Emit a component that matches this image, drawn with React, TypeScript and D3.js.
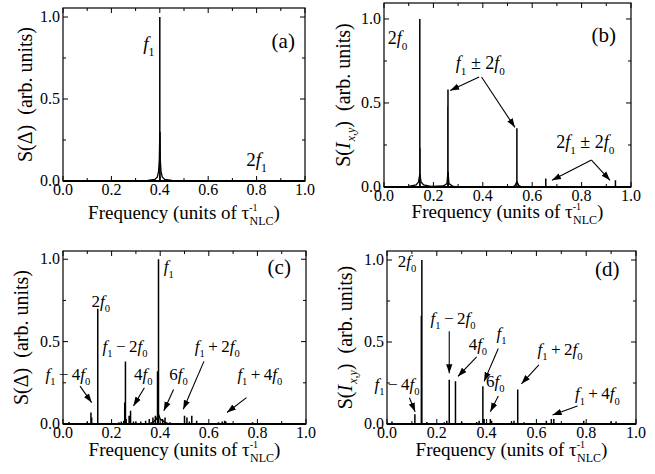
import React from "react";
import * as d3 from "d3";

const SERIF = "'Liberation Serif', 'DejaVu Serif', 'Times New Roman', serif";

type Pt = [number, number];
type Arrow = [number, number, number, number];
type Ann = { t: string; x: number; y: number; arrows?: Arrow[]; anchor?: string };

// axis ticks
const xMajor = [0, 0.2, 0.4, 0.6, 0.8, 1.0];
const xMinor = [0.1, 0.3, 0.5, 0.7, 0.9];
const yMajor = [0, 0.5, 1.0];
const yMinor = [0.25, 0.75];

// (a) S(Delta), single line at f1
const sticksA: Pt[] = [[0.4, 1.0], [0.401, 0.3]];
const wingsA: Pt[][] = [[
  [0.28, 0], [0.35, 0.004], [0.38, 0.01], [0.39, 0.025], [0.395, 0.06], [0.398, 0.13],
  [0.4, 0.3], [0.402, 0.13], [0.405, 0.06], [0.41, 0.025], [0.42, 0.01], [0.45, 0.004], [0.5, 0.002], [0.52, 0],
]];

// (b) S(I_xy)
const sticksB: Pt[] = [
  [0.145, 1.0], [0.146, 0.23], [0.2585, 0.48], [0.259, 0.58], [0.26, 0.09],
  [0.538, 0.35], [0.655, 0.05], [0.937, 0.04],
];
const wingsB: Pt[][] = [
  [[0.07, 0], [0.1, 0.004], [0.13, 0.012], [0.14, 0.03], [0.145, 0.08], [0.15, 0.03], [0.16, 0.012],
   [0.19, 0.004], [0.24, 0.006], [0.255, 0.02], [0.259, 0.09], [0.263, 0.02], [0.28, 0.003], [0.3, 0]],
  [[0.52, 0], [0.53, 0.008], [0.538, 0.03], [0.546, 0.008], [0.56, 0]],
];

// (c) S(Delta), quasiperiodic
const sticksC: Pt[] = [
  [0.025, 0.012], [0.06, 0.004], [0.1, 0.01], [0.115, 0.07], [0.118, 0.04], [0.143, 0.7],
  [0.17, 0.005], [0.23, 0.01], [0.24, 0.015], [0.25, 0.02], [0.254, 0.13], [0.257, 0.38],
  [0.26, 0.03], [0.272, 0.05], [0.278, 0.08], [0.29, 0.015], [0.3, 0.01], [0.32, 0.015],
  [0.34, 0.02], [0.355, 0.03], [0.37, 0.04], [0.38, 0.05], [0.389, 0.32], [0.393, 1.0],
  [0.41, 0.03], [0.42, 0.04], [0.44, 0.01], [0.5, 0.05], [0.51, 0.04], [0.52, 0.015],
  [0.53, 0.05], [0.55, 0.02], [0.64, 0.01], [0.655, 0.015], [0.665, 0.02], [0.67, 0.015], [0.78, 0.01],
];
const wingsC: Pt[][] = [[
  [0.35, 0], [0.37, 0.01], [0.385, 0.03], [0.393, 0.06], [0.4, 0.03], [0.42, 0.01], [0.44, 0],
]];

// (d) S(I_xy), quasiperiodic
const sticksD: Pt[] = [
  [0.02, 0.015], [0.112, 0.06], [0.138, 0.66], [0.14, 1.0], [0.16, 0.012], [0.23, 0.01],
  [0.24, 0.02], [0.25, 0.27], [0.275, 0.26], [0.3, 0.012], [0.36, 0.012], [0.37, 0.02],
  [0.385, 0.23], [0.39, 0.03], [0.415, 0.03], [0.42, 0.02], [0.5, 0.015], [0.51, 0.02],
  [0.525, 0.21], [0.55, 0.01], [0.64, 0.02], [0.66, 0.03], [0.67, 0.03], [0.79, 0.02],
  [0.9, 0.015], [0.92, 0.015],
];

const annA: Ann[] = [
  { t: "f_1", x: 0.355, y: 0.8 },
  { t: "2f_1", x: 0.8, y: 0.09 },
];
const annB: Ann[] = [
  { t: "2f_0", x: 0.055, y: 0.85 },
  { t: "f_1 ± 2f_0", x: 0.39, y: 0.7, arrows: [[0.385, 0.655, 0.268, 0.575], [0.395, 0.655, 0.53, 0.355]] },
  { t: "2f_1 ± 2f_0", x: 0.815, y: 0.23, arrows: [[0.84, 0.16, 0.68, 0.04], [0.84, 0.16, 0.915, 0.04]] },
];
const annC: Ann[] = [
  { t: "f_1", x: 0.415, y: 0.92, anchor: "start" },
  { t: "2f_0", x: 0.155, y: 0.71 },
  { t: "f_1\u2009−\u20092f_0", x: 0.255, y: 0.44 },
  { t: "f_1\u2009−\u20094f_0", x: 0.02, y: 0.27, arrows: [[0.07, 0.23, 0.118, 0.13]] },
  { t: "4f_0", x: 0.33, y: 0.27, arrows: [[0.335, 0.22, 0.29, 0.11]] },
  { t: "6f_0", x: 0.475, y: 0.27, arrows: [[0.455, 0.21, 0.415, 0.08]] },
  { t: "f_1\u2009+\u20092f_0", x: 0.635, y: 0.44, arrows: [[0.58, 0.38, 0.495, 0.09]] },
  { t: "f_1\u2009+\u20094f_0", x: 0.81, y: 0.27, arrows: [[0.755, 0.16, 0.675, 0.07]] },
];
const annD: Ann[] = [
  { t: "2f_0", x: 0.08, y: 0.96 },
  { t: "f_1\u2009−\u20092f_0", x: 0.265, y: 0.61, arrows: [[0.25, 0.565, 0.25, 0.31]] },
  { t: "4f_0", x: 0.365, y: 0.45, arrows: [[0.36, 0.41, 0.285, 0.29]] },
  { t: "f_1", x: 0.46, y: 0.52, arrows: [[0.447, 0.46, 0.39, 0.26]] },
  { t: "6f_0", x: 0.435, y: 0.225, arrows: [[0.447, 0.17, 0.415, 0.075]] },
  { t: "f_1\u2009+\u20092f_0", x: 0.695, y: 0.42, arrows: [[0.61, 0.36, 0.54, 0.245]] },
  { t: "f_1\u2009−\u20094f_0", x: 0.04, y: 0.21, arrows: [[0.09, 0.16, 0.113, 0.075]] },
  { t: "f_1\u2009+\u20094f_0", x: 0.845, y: 0.15, arrows: [[0.765, 0.11, 0.665, 0.055]] },
];

// "f" italic, "_x" subscript
function rich(s: string, size: number) {
  const toks = s.match(/f|_.|[^f_]+/g) || [];
  const sh = size * 0.3;
  let down = false;
  return toks.map((t, i) => {
    if (t[0] === "_") {
      down = true;
      return <tspan key={i} dy={sh} fontSize={size * 0.62}>{t.slice(1)}</tspan>;
    }
    const dy = down ? -sh : 0;
    down = false;
    return t === "f"
      ? <tspan key={i} dy={dy} fontStyle="italic">f</tspan>
      : <tspan key={i} dy={dy}>{t}</tspan>;
  });
}

type PanelProps = {
  left: number; right: number; top: number; bottom: number; yMax: number;
  sticks: Pt[]; wings?: Pt[][]; ann: Ann[]; annSize: number;
  letter: string; letterX: number; letterY: number;
  intensity: boolean; xTitleY: number; yTitleX: number;
};

function Panel(p: PanelProps) {
  const x = d3.scaleLinear().domain([0, 1]).range([p.left, p.right]);
  const y = d3.scaleLinear().domain([0, p.yMax]).range([p.bottom, p.top]);
  const line = d3.line<Pt>().x(d => x(d[0])).y(d => y(d[1]));
  const sticks = p.sticks.map(([f, h]) => line([[f, 0], [f, h]])).join("");
  const wings = (p.wings || []).map(w => line(w)).join("");
  const cy = (p.top + p.bottom) / 2;
  const cx = (p.left + p.right) / 2;
  return (
    <g>
      <path d={line([[0, 0], [1, 0]]) || ""} stroke="#000" strokeWidth={1.8} fill="none" />
      <path d={wings} stroke="#000" strokeWidth={1.3} fill="none" />
      <path d={sticks} stroke="#000" strokeWidth={1.5} fill="none" />
      <rect x={p.left} y={p.top} width={p.right - p.left} height={p.bottom - p.top}
        fill="none" stroke="#000" strokeWidth={1.2} />
      {xMajor.concat(xMinor).map((v, i) => {
        const len = i < xMajor.length ? 5 : 3;
        return (
          <g key={"xt" + i}>
            <line x1={x(v)} x2={x(v)} y1={p.bottom} y2={p.bottom - len} stroke="#000" />
            <line x1={x(v)} x2={x(v)} y1={p.top} y2={p.top + len} stroke="#000" />
          </g>
        );
      })}
      {yMajor.concat(yMinor).map((v, i) => {
        const len = i < yMajor.length ? 5 : 3;
        return (
          <g key={"yt" + i}>
            <line x1={p.left} x2={p.left + len} y1={y(v)} y2={y(v)} stroke="#000" />
            <line x1={p.right} x2={p.right - len} y1={y(v)} y2={y(v)} stroke="#000" />
          </g>
        );
      })}
      {xMajor.map((v, i) => (
        <text key={"xl" + i} x={x(v)} y={p.bottom + 14} fontSize={16} textAnchor="middle">
          {v.toFixed(1)}
        </text>
      ))}
      {yMajor.map((v, i) => (
        <text key={"yl" + i} x={p.left - 3} y={y(v) + 5} fontSize={16} textAnchor="end">
          {v.toFixed(1)}
        </text>
      ))}
      <text x={cx} y={p.xTitleY} fontSize={19} textAnchor="middle">
        Frequency (units of τ
        <tspan dy={-8} fontSize={10}>-1</tspan>
        <tspan dx={-8} dy={14} fontSize={12}>NLC</tspan>
        <tspan dy={-6}>)</tspan>
      </text>
      <text transform={`translate(${p.yTitleX},${cy}) rotate(-90)`} fontSize={20}
        textAnchor="middle" style={{ whiteSpace: "pre" }}>
        {p.intensity ? (
          <>
            <tspan>S(</tspan>
            <tspan fontStyle="italic">I</tspan>
            <tspan dy={5} dx={1} fontSize={12} fontStyle="italic">x,y</tspan>
            <tspan dy={-5}>{")  (arb. units)"}</tspan>
          </>
        ) : (
          <tspan>{"S(Δ)  (arb. units)"}</tspan>
        )}
      </text>
      <text x={x(p.letterX)} y={y(p.letterY)} fontSize={21} textAnchor="middle">{p.letter}</text>
      {p.ann.map((a, i) => (
        <g key={"an" + i}>
          <text x={x(a.x)} y={y(a.y)} fontSize={p.annSize} textAnchor={a.anchor || "middle"}
            style={{ whiteSpace: "pre" }}>
            {rich(a.t, p.annSize)}
          </text>
          {(a.arrows || []).map((r, j) => (
            <line key={j} x1={x(r[0])} y1={y(r[1])} x2={x(r[2])} y2={y(r[3])}
              stroke="#000" strokeWidth={1.1} markerEnd="url(#ah)" />
          ))}
        </g>
      ))}
    </g>
  );
}

export default function App() {
  return (
    <svg width={655} height={474}
      style={{ position: "absolute", left: 0, top: 0, background: "#fff", fontFamily: SERIF }}>
      <defs>
        <marker id="ah" viewBox="0 0 10 10" refX={10} refY={5} markerWidth={9} markerHeight={9}
          orient="auto" markerUnits="userSpaceOnUse">
          <path d="M0,1.5 L10,5 L0,8.5 z" fill="#000" />
        </marker>
      </defs>
      <Panel left={63} right={305} top={8} bottom={181} yMax={1.055}
        sticks={sticksA} wings={wingsA} ann={annA} annSize={19}
        letter="(a)" letterX={0.91} letterY={0.81} intensity={false} xTitleY={219} yTitleX={32} />
      <Panel left={384} right={631} top={3} bottom={187} yMax={1.095}
        sticks={sticksB} wings={wingsB} ann={annB} annSize={18}
        letter="(b)" letterX={0.89} letterY={0.86} intensity={true} xTitleY={218} yTitleX={350} />
      <Panel left={63} right={306} top={251} bottom={424} yMax={1.05}
        sticks={sticksC} wings={wingsC} ann={annC} annSize={17}
        letter="(c)" letterX={0.89} letterY={0.91} intensity={false} xTitleY={456} yTitleX={28} />
      <Panel left={387} right={636} top={251} bottom={424} yMax={1.055}
        sticks={sticksD} ann={annD} annSize={17}
        letter="(d)" letterX={0.885} letterY={0.9} intensity={true} xTitleY={456} yTitleX={352} />
    </svg>
  );
}
